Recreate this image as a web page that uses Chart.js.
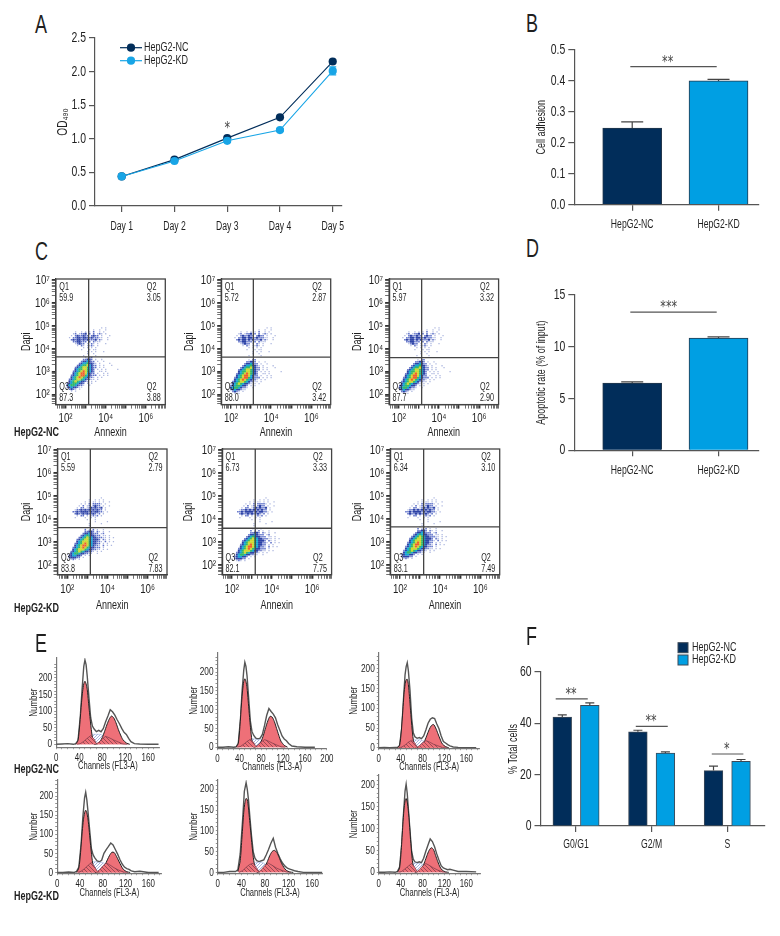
<!DOCTYPE html>
<html>
<head>
<meta charset="utf-8">
<script src="https://cdn.jsdelivr.net/npm/chart.js@4"></script>
<style>
body { margin: 0; background: #fff; }
#page { position: relative; width: 780px; height: 936px; overflow: hidden; font-family: "Liberation Sans", sans-serif; color: #1f1f1f; }
#page canvas { position: absolute; }
.txt { position: absolute; white-space: nowrap; line-height: 1; transform-origin: left center; }
.letter { font-size: 25px; }
.group { font-size: 12.5px; font-weight: bold; }
</style>
</head>
<body>
<div id="page"></div>
<script>
// panel A
const days = ["Day 1", "Day 2", "Day 3", "Day 4", "Day 5"];
const odNC = [0.44, 0.69, 1.01, 1.32, 2.15];
const odKD = [0.44, 0.67, 0.97, 1.13, 2.01];
const odKDErr = [0.01, 0.02, 0.02, 0.02, 0.06];

// panels B and D
const cellLines = ["HepG2-NC", "HepG2-KD"];
const adhesion = [0.248, 0.40];
const adhesionErr = [0.02, 0.005];
const apoptosis = [6.5, 10.85];
const apoptosisErr = [0.1, 0.1];

// panel F
const phases = ["G0/G1", "G2/M", "S"];
const phaseNC = [42.4, 36.7, 21.6];
const phaseKD = [47.0, 28.4, 25.2];
const phaseNCErr = [0.9, 0.6, 1.7];
const phaseKDErr = [1.0, 0.5, 0.7];

// panel C: gate percentages as printed, Q1, Q2 top, Q3, Q2 bottom
const gatesNC = [["59.9", "3.05", "87.3", "3.88"], ["5.72", "2.87", "88.0", "3.42"], ["5.97", "3.32", "87.7", "2.90"]];
const gatesKD = [["5.59", "2.79", "83.8", "7.83"], ["6.73", "3.33", "82.1", "7.75"], ["6.34", "3.10", "83.1", "7.49"]];
// quadrant gates, log10 of Annexin and Dapi
const gateXNC = [3.15, 3.115, 3.135];
const gateYNC = [3.65, 3.64, 3.62];
const gateXKD = [3.15, 3.165, 3.18];
const gateYKD = [3.625, 3.595, 3.65];
// shift of the lower population per plot, log10 units
const shiftNC = [[0, 0], [-0.1, -0.1], [-0.05, -0.1]];
const shiftKD = [[0, 0], [0.05, -0.05], [0, 0.04]];

// density, 0.1 decade wide cells. 1 pale ... 7 red
const densityNC = [
"............................",
"...................1.1......",
"...............1..1..1......",
"......1..1.1.1.2..1.1.......",
".....12.1223.2.2.121.1......",
"....1.2322322.2322.1...1....",
"...1.223323322322211..1.....",
"....2323323232223121..1.....",
".....2233222.2.2111.........",
"......12322.1.21.1...1......",
".......1.21.1121.1..........",
"..........1.1.1.1...........",
".........1...1.11...........",
"............1.1.1...1.......",
"............1..1............",
"..........1.....1...........",
"...........1.22.............",
"..........22332.1..1........",
".........2334322.1..1.......",
"........234453321.1....1....",
".......2345564322.1.1...1...",
"......23456654322.1.1.......",
"......3455665432.1.1.1.....1",
".....23456765432..11.1......",
".....34567764322.1..1.1.....",
"....2345677543222.1.1.1.....",
"....345676543221.1.1........",
"...2345665432211.1..........",
"...3456543321.1.1...........",
"..234554332.1.1.............",
"..345543221..1..............",
"..23433211..................",
"...2321.1...................",
"....1.1....................."];
const densityKD = [
"............................",
"..................1.........",
"............1..1.1.1........",
"..........1.1.11.1.1..1.....",
"........1.1.2.22221.1.......",
".......1.2.12.2322.1..1.....",
"......1.22.12323223.1.......",
".....12232323232322.1.......",
"....2232333323233221.1......",
".....2322323223212.1........",
"......1.22.1.1212.1.........",
".....1....1..1.1............",
"...........1...1............",
"...............1.....1......",
"............1.....1.........",
"............1...............",
"...........1.1.1............",
"..........2.1.2.1..1........",
"..........22332.21.1..1.....",
".........23343222.12........",
"........2345433222.11.1.....",
".......23456543322211.1.1...",
"......234566543332.21.1.....",
"......3456665433221.2.1.1...",
".....2345676543322.1.1......",
".....3456776543221.2.1.1....",
"....23456765433222.1........",
"....34566654332211.1.1......",
"...234565433221.1.1.........",
"...34554332211..1...........",
"..2344332.1.1...............",
"..233322.1..................",
"...121.1...................."];

// panel E: counts per channel, six plots, NC row then KD row
const envCh = [0,10,20,30,34,38,42,45,48,50,52,54,57,60,63,66,70,74,78,82,86,90,94,98,102,106,110,114,118,122,126,130,136,145,160,178];
const g1Ch = [34,38,41,44,46,48,50,52,54,56,58,61,64,68];
const g2Ch = [66,72,76,80,84,88,92,96,100,104,108,112,116,122,128];
const sCh = [36,42,48,54,60,66,70,74,80,86,92,100,108,116,124];
const midCh = [60,64,68,72,76,80,84];
const envelope = [
  [0,1,2,0,2,12,85,165,235,254,240,205,140,80,55,46,38,42,38,48,68,85,104,98,88,74,62,48,36,30,18,8,2,1,0,0],
  [0,0,1,0,1,10,75,150,205,226,215,190,130,70,42,32,24,22,24,34,58,85,103,95,88,78,60,45,30,22,17,10,3,1,0,0],
  [0,1,0,1,1,6,50,120,185,205,215,195,145,75,38,28,24,26,23,30,45,62,72,76,74,60,48,30,16,12,8,5,2,1,0,0],
  [0,0,1,0,3,14,75,145,195,210,190,160,110,62,46,38,30,28,32,50,60,68,77,72,60,48,34,22,14,10,8,4,2,3,0,0],
  [0,0,2,2,6,45,125,195,216,200,175,140,90,50,34,28,26,28,30,42,55,70,82,60,45,32,22,15,10,8,6,4,2,0,0,0],
  [0,0,1,0,2,12,65,130,185,201,180,145,95,48,30,24,22,24,22,32,48,62,76,70,58,42,28,15,10,8,6,7,5,2,2,1]
];
const g1Peak = [
  [0,12,60,125,160,182,190,182,165,130,95,45,12,0],
  [0,10,55,118,152,175,182,175,158,125,90,42,10,0],
  [0,6,40,95,135,160,172,173,160,130,95,45,12,0],
  [0,12,52,108,138,156,163,156,140,112,80,38,10,0],
  [2,28,85,145,168,178,175,155,125,95,65,28,8,0],
  [0,10,50,108,142,162,168,160,140,110,75,32,8,0]
];
const g2Peak = [
  [0,2,8,20,38,58,75,85,80,65,45,28,14,4,0],
  [0,2,6,16,32,52,70,82,80,68,50,32,16,5,0],
  [0,1,3,8,18,32,46,56,59,50,36,22,10,3,0],
  [0,1,4,10,20,33,45,53,52,42,30,18,8,2,0],
  [0,2,6,14,26,40,50,53,48,36,22,12,5,1,0],
  [0,2,5,12,24,38,50,56,52,38,24,12,5,1,0]
];
const sPhase = [
  [0,2,9,18,26,16,2,6,16,24,20,13,7,1,0],
  [0,2,8,15,21,13,2,6,14,20,17,11,6,1,0],
  [0,2,7,14,19,12,2,5,13,18,15,9,5,1,0],
  [0,3,10,18,26,14,3,6,17,25,20,12,6,1,0],
  [0,4,12,19,22,10,2,7,17,22,17,10,5,1,0],
  [0,2,8,14,20,11,2,6,14,20,16,10,5,1,0]
];
const midPhase = [
  [26,30,30,30,30,28,24],
  [20,22,22,20,20,20,18],
  [18,20,20,20,20,18,16],
  [24,28,28,26,26,26,22],
  [20,24,24,24,24,20,18],
  [18,21,21,20,20,18,16]
];

const navy = "#012d5a";
const blue = "#009fe3";
const axisCol = "#555";
const textCol = "#1f1f1f";
const sans = '"Liberation Sans", sans-serif';
const page = document.getElementById("page");
Chart.defaults.font.family = sans;
Chart.defaults.color = textCol;
Chart.defaults.animation = false;
Chart.defaults.responsive = false;
Chart.defaults.plugins.legend.display = false;
Chart.defaults.plugins.tooltip.enabled = false;

// no narrow font on the box, so all canvas text is squeezed sideways
const squeeze = 0.72;
const rawFillText = CanvasRenderingContext2D.prototype.fillText;
CanvasRenderingContext2D.prototype.fillText = function (t, x, y) {
  this.save();
  this.translate(x, y);
  this.scale(squeeze, 1);
  rawFillText.call(this, t, 0, 0);
  this.restore();
};

function addText(str, x, y, cls) {
  const d = document.createElement("div");
  d.className = "txt " + cls;
  d.textContent = str;
  d.style.left = x + "px";
  d.style.top = y + "px";
  d.style.transform = "translate(0,-50%) scaleX(" + squeeze + ")";
  page.appendChild(d);
}

// canvas around a plot area given in page pixels, left/lower are the outer edges
function frame(g) {
  const c = document.createElement("canvas");
  const t = g.top - (g.head || 12);
  c.width = Math.round(g.right + 16 - g.left);
  c.height = Math.round(g.lower - t);
  c.style.left = g.left + "px";
  c.style.top = t + "px";
  page.appendChild(c);
  return c;
}
function layoutFor(g) {
  return { padding: { top: g.head || 12, right: Math.round(g.right + 16 - g.left) - (g.right - g.left), left: 0, bottom: 0 } };
}

function axis(g, horizontal, opts) {
  const o = {
    offset: false,
    grid: { display: true, offset: false, drawOnChartArea: false, drawTicks: true, tickLength: opts.tickLength || 6, color: opts.color || axisCol, lineWidth: opts.tickWidth || 1.2 },
    border: { display: true, color: opts.color || axisCol, width: opts.lineWidth || 1.2 },
    ticks: { autoSkip: false, maxRotation: 0, minRotation: 0, padding: opts.pad === undefined ? 3 : opts.pad, font: { size: opts.size || 14.5 } },
    afterFit: horizontal
      ? function (s) { s.height = g.lower - g.bottom; }
      : function (s) { s.width = g.axisX - g.left; }
  };
  for (const k of ["type", "min", "max"]) if (opts[k] !== undefined) o[k] = opts[k];
  if (opts.list) o.afterBuildTicks = function (s) { s.ticks = opts.list.map(function (v) { return { value: v }; }); };
  if (opts.label) o.ticks.callback = opts.label;
  if (opts.title) o.title = { display: true, text: opts.title, padding: 0, font: { size: opts.titleSize || 12.5 }, color: textCol };
  if (opts.scriptWidth) o.grid.lineWidth = opts.scriptWidth;
  return o;
}

// whiskers, significance lines and the little legends
const marks = {
  id: "marks",
  afterDatasetsDraw(chart, args, opt) {
    const ctx = chart.ctx, xs = chart.scales.x, ys = chart.scales.y;
    ctx.save();
    (opt.errors || []).forEach(function (e) {
      const m = chart.getDatasetMeta(e.dataset);
      const cap = e.cap;
      e.values.forEach(function (v, i) {
        const pt = m.data[i];
        const base = ys.getPixelForValue(e.means[i]);
        const top = ys.getPixelForValue(e.means[i] + v);
        const low = e.both ? ys.getPixelForValue(e.means[i] - v) : base;
        ctx.strokeStyle = e.color;
        ctx.lineWidth = 1.2;
        ctx.beginPath();
        ctx.moveTo(pt.x, low); ctx.lineTo(pt.x, top);
        ctx.moveTo(pt.x - cap, top); ctx.lineTo(pt.x + cap, top);
        if (e.both) { ctx.moveTo(pt.x - cap, low); ctx.lineTo(pt.x + cap, low); }
        ctx.stroke();
      });
    });
    (opt.sig || []).forEach(function (s) {
      const y = ys.getPixelForValue(s.y);
      if (s.x0 !== undefined) {
        ctx.strokeStyle = "#555";
        ctx.lineWidth = 1.2;
        ctx.beginPath();
        ctx.moveTo(xs.getPixelForValue(s.x0), y);
        ctx.lineTo(xs.getPixelForValue(s.x1), y);
        ctx.stroke();
      }
      ctx.fillStyle = "#444";
      ctx.font = '15.5px "DejaVu Sans"';
      ctx.textAlign = "center";
      ctx.textBaseline = "middle";
      ctx.fillText(s.text, xs.getPixelForValue(s.star), y - 4);
    });
    (opt.legend || []).forEach(function (l) {
      const ds = chart.data.datasets[l.dataset];
      ctx.fillStyle = ds.backgroundColor;
      ctx.strokeStyle = ds.borderColor;
      if (l.kind === "line") {
        ctx.lineWidth = 1.2;
        ctx.beginPath();
        ctx.moveTo(l.x, l.y); ctx.lineTo(l.x + 22, l.y);
        ctx.stroke();
        ctx.beginPath();
        ctx.arc(l.x + 11, l.y, 4.1, 0, Math.PI * 2);
        ctx.fill();
      } else {
        ctx.fillRect(l.x, l.y - 5, 10, 10);
        ctx.lineWidth = 1;
        ctx.strokeRect(l.x, l.y - 5, 10, 10);
      }
      ctx.fillStyle = textCol;
      ctx.font = "12.5px " + sans;
      ctx.textAlign = "left";
      ctx.textBaseline = "middle";
      ctx.fillText(ds.label, l.x + l.gap, l.y);
    });
    ctx.restore();
  }
};
Chart.register(marks);

// ---------- A
(function () {
  const g = { axisX: 95, right: 342, top: 37.7, bottom: 206, left: 55, lower: 233 };
  const toPts = function (arr) { return arr.map(function (v, i) { return { x: i + 1, y: v }; }); };
  new Chart(frame(g), {
    type: "line",
    data: {
      datasets: [
        { label: "HepG2-NC", data: toPts(odNC), borderColor: navy, backgroundColor: navy, borderWidth: 1.1, pointRadius: 4.1, pointBorderWidth: 0, tension: 0, order: 2 },
        { label: "HepG2-KD", data: toPts(odKD), borderColor: "#18a5e6", backgroundColor: "#18a5e6", borderWidth: 1.1, pointRadius: 4.1, pointBorderWidth: 0, tension: 0, order: 1 }
      ]
    },
    options: {
      layout: layoutFor(g),
      scales: {
        x: axis(g, true, { type: "linear", min: 0.494, max: 5.176, list: [1, 2, 3, 4, 5], size: 12, pad: 7, label: function (v) { return days[v - 1]; } }),
        y: axis(g, false, { min: 0, max: 2.5, list: [0, 0.5, 1, 1.5, 2, 2.5], pad: 3, title: "OD₄₉₀", titleSize: 14, label: function (v) { return v.toFixed(1); } })
      },
      plugins: {
        marks: {
          errors: [{ dataset: 1, means: odKD, values: odKDErr, cap: 3.5, color: "#18a5e6", both: true }],
          sig: [{ y: 1.08, star: 3, text: "*" }],
          legend: [
            { dataset: 0, kind: "line", x: 65, y: 21.7, gap: 24 },
            { dataset: 1, kind: "line", x: 65, y: 34.7, gap: 24 }
          ]
        }
      }
    }
  });
})();

// ---------- B and D
function twoBars(g, values, errs, yMax, ticks, fmt, title, sig) {
  new Chart(frame(g), {
    type: "bar",
    data: {
      datasets: [{
        label: title,
        data: values.map(function (v, i) { return { x: i + 1, y: v }; }),
        backgroundColor: [navy, blue],
        borderColor: "#24384c",
        borderWidth: 1,
        barThickness: 59
      }]
    },
    options: {
      layout: layoutFor(g),
      scales: {
        x: axis(g, true, { type: "linear", min: 0.329, max: 2.469, list: [1, 2], size: 12, pad: 7, label: function (v) { return cellLines[v - 1]; } }),
        y: axis(g, false, { min: 0, max: yMax, list: ticks, pad: 3, title: title, label: fmt })
      },
      plugins: { marks: { errors: [{ dataset: 0, means: values, values: errs, cap: 11, color: "#444" }], sig: [sig] } }
    }
  });
}
twoBars({ axisX: 574.3, right: 759, top: 50, bottom: 204.7, left: 534, lower: 232 }, adhesion, adhesionErr, 0.5,
  [0, 0.1, 0.2, 0.3, 0.4, 0.5], function (v) { return v.toFixed(1); }, "Cell adhesion",
  { x0: 0.978, x1: 1.979, y: 0.446, star: 1.411, text: "**" });
twoBars({ axisX: 574.3, right: 759, top: 295.3, bottom: 450.3, left: 534, lower: 477 }, apoptosis, apoptosisErr, 15,
  [0, 5, 10, 15], function (v) { return String(v); }, "Apoptotic rate (% of input)",
  { x0: 0.978, x1: 1.979, y: 13.35, star: 1.423, text: "***" });

// ---------- F
(function () {
  const g = { axisX: 540.5, right: 765, top: 672, bottom: 826, left: 506, lower: 851, head: 32 };
  const side = 0.182;
  const at = function (arr, off) { return arr.map(function (v, i) { return { x: i + 1 + off, y: v }; }); };
  new Chart(frame(g), {
    type: "bar",
    data: {
      datasets: [
        { label: "HepG2-NC", data: at(phaseNC, -side), backgroundColor: navy, borderColor: "#3d4a58", borderWidth: 1, barThickness: 18.7, grouped: false },
        { label: "HepG2-KD", data: at(phaseKD, side), backgroundColor: blue, borderColor: "#3d4a58", borderWidth: 1, barThickness: 18.7, grouped: false }
      ]
    },
    options: {
      layout: layoutFor(g),
      scales: {
        x: axis(g, true, { type: "linear", min: 0.53, max: 3.499, list: [1, 2, 3], size: 12, pad: 5, label: function (v) { return phases[v - 1]; } }),
        y: axis(g, false, { min: 0, max: 60, list: [0, 20, 40, 60], pad: 3, title: "% Total cells", label: function (v) { return String(v); } })
      },
      plugins: {
        marks: {
          errors: [
            { dataset: 0, means: phaseNC, values: phaseNCErr, cap: 4.5, color: "#444" },
            { dataset: 1, means: phaseKD, values: phaseKDErr, cap: 4.5, color: "#444" }
          ],
          sig: [
            { x0: 0.731, x1: 1.155, y: 49.5, star: 0.934, text: "**" },
            { x0: 1.79, x1: 2.213, y: 38.8, star: 1.992, text: "**" },
            { x0: 2.795, x1: 3.213, y: 28.05, star: 2.993, text: "*" }
          ],
          legend: [
            { dataset: 0, kind: "box", x: 172, y: 7.7, gap: 14 },
            { dataset: 1, kind: "box", x: 172, y: 20, gap: 14 }
          ]
        }
      }
    }
  });
})();

// ---------- C
const levelCols = [null, "#aeb8e0", "#5d70c8", "#2c42a6", "#14a6d6", "#33b86a", "#cfd832", "#ef5f2a"];
const levelSize = [0, 0.9, 1.1, 1.5, 1.6, 1.6, 1.6, 1.5];

const flowPlugin = {
  id: "flowBox",
  afterDatasetsDraw(chart, args, opt) {
    if (!opt.gates) return;
    const ctx = chart.ctx, a = chart.chartArea;
    ctx.save();
    ctx.strokeStyle = "#444";
    ctx.lineWidth = 1.3;
    ctx.strokeRect(a.left, a.top, a.right - a.left, a.bottom - a.top);
    const vx = chart.scales.x.getPixelForValue(Math.pow(10, opt.gateX));
    const hy = chart.scales.y.getPixelForValue(Math.pow(10, opt.gateY));
    ctx.beginPath();
    ctx.moveTo(vx, a.top); ctx.lineTo(vx, a.bottom);
    ctx.moveTo(a.left, hy); ctx.lineTo(a.right, hy);
    ctx.stroke();
    ctx.fillStyle = textCol;
    ctx.font = "10px " + sans;
    ctx.textAlign = "left";
    ctx.textBaseline = "middle";
    const lab = [["Q1", 3.5, 8, 0], ["Q2", 91, 8, 1], ["Q3", 3.5, -17, 2], ["Q2", 91, -17, 3]];
    lab.forEach(function (l) {
      const base = l[2] > 0 ? a.top + l[2] : a.bottom + l[2];
      ctx.fillText(l[0], a.left + l[1], base);
      ctx.fillText(opt.gates[l[3]], a.left + l[1], base + 11);
    });
    ctx.restore();
  }
};
Chart.register(flowPlugin);

function decadeTicks(lo, hi) {
  const out = [];
  for (let d = lo; d <= hi; d++) for (let m = 1; m < 10; m++) out.push(m * Math.pow(10, d));
  return out;
}
const supers = { 2: "²", 3: "³", 4: "⁴", 5: "⁵", 6: "⁶", 7: "⁷" };
function isDecade(v) { const l = Math.log10(v); return Math.abs(l - Math.round(l)) < 1e-6; }
function flowLabel(keep) {
  return function (v) {
    const l = Math.round(Math.log10(v));
    return isDecade(v) && keep.indexOf(l) >= 0 ? "10" + supers[l] : "";
  };
}

function flowPlot(left, bottom, map, shift, gates, gateX, gateY, titleX, titleY) {
  const g = { axisX: left, right: left + 109.5, top: bottom - 126, bottom: bottom, left: titleX - 7.5, lower: titleY + 7.5 };
  const sets = [];
  for (let lv = 1; lv <= 7; lv++) {
    const pts = [];
    map.forEach(function (row, r) {
      for (let c = 0; c < row.length; c++) {
        if (row[c] !== String(lv)) continue;
        const low = r >= 16;
        pts.push({
          x: Math.pow(10, 1.9 + c * 0.1 + (low ? shift[0] : 0)),
          y: Math.pow(10, 5 - r * 0.0862 + (low ? shift[1] : 0))
        });
      }
    });
    sets.push({ data: pts, pointStyle: "rect", pointRadius: levelSize[lv], pointBorderWidth: 0, backgroundColor: levelCols[lv], order: 8 - lv });
  }
  const thick = function (ctx) { return ctx.tick && isDecade(ctx.tick.value) ? 1.4 : 0.7; };
  new Chart(frame(g), {
    type: "scatter",
    data: { datasets: sets },
    options: {
      layout: layoutFor(g),
      scales: {
        x: axis(g, true, { type: "logarithmic", min: Math.pow(10, 1.515), max: Math.pow(10, 6.965), list: decadeTicks(1, 6).filter(function (v) { return v >= 32.7 && v <= 9.2e6; }), tickLength: 4, color: "#333", scriptWidth: thick, size: 13.5, pad: 2, title: "Annexin", titleSize: 12.5, label: flowLabel([2, 4, 6]) }),
        y: axis(g, false, { type: "logarithmic", min: Math.pow(10, 1.57), max: Math.pow(10, 7.04), list: decadeTicks(1, 7).filter(function (v) { return v >= 37.2 && v <= 1.1e7; }), tickLength: 4, color: "#333", scriptWidth: thick, size: 13.5, pad: 2, title: "Dapi", titleSize: 12.5, label: flowLabel([2, 3, 4, 5, 6, 7]) })
      },
      plugins: { flowBox: { gates: gates, gateX: gateX, gateY: gateY } }
    }
  });
}
const flowLefts = [[56, 220.7, 389.3], [57.3, 222.3, 390]];
const dapiX = [[26.7, 189, 357.7], [26.3, 188.7, 357.3]];
for (let i = 0; i < 3; i++) {
  flowPlot(flowLefts[0][i], 404.6, densityNC, shiftNC[i], gatesNC[i], gateXNC[i], gateYNC[i], dapiX[0][i], 432.5);
  flowPlot(flowLefts[1][i], 575, densityKD, shiftKD[i], gatesKD[i], gateXKD[i], gateYKD[i], dapiX[1][i], 605.7);
}

// ---------- E
const hatchRed = (function () {
  const c = document.createElement("canvas");
  c.width = c.height = 4;
  const x = c.getContext("2d");
  x.fillStyle = "#ee7078";
  x.fillRect(0, 0, 4, 4);
  x.strokeStyle = "#7a3a48";
  x.lineWidth = 0.7;
  x.beginPath();
  x.moveTo(0, 0); x.lineTo(4, 4);
  x.stroke();
  return x.createPattern(c, "repeat");
})();
const hatchBlue = (function () {
  const c = document.createElement("canvas");
  c.width = c.height = 3;
  const x = c.getContext("2d");
  x.fillStyle = "#fff";
  x.fillRect(0, 0, 3, 3);
  x.strokeStyle = "#8fa2d8";
  x.lineWidth = 0.8;
  x.beginPath();
  x.moveTo(0, 3); x.lineTo(3, 0);
  x.stroke();
  return x.createPattern(c, "repeat");
})();

const histBoxes = [
  { axisX: 56, right: 159.3, top: 658.3, bottom: 747.7, xMax: 179.7, yMin: -8.7, yMax: 260, titleX: 33.3, titleY: 766 },
  { axisX: 217.3, right: 326.7, top: 652.7, bottom: 747.7, xMax: 200, yMin: -2.7, yMax: 250.7, titleX: 193.3, titleY: 766 },
  { axisX: 378.3, right: 479, top: 652.7, bottom: 747.7, xMax: 184, yMin: -1, yMax: 239.5, titleX: 353, titleY: 766 },
  { axisX: 56.7, right: 161, top: 780, bottom: 872.7, xMax: 183, yMin: -2, yMax: 242, titleX: 33, titleY: 892 },
  { axisX: 217.3, right: 321.7, top: 780, bottom: 872.7, xMax: 177, yMin: -2, yMax: 222.4, titleX: 193, titleY: 892 },
  { axisX: 378.3, right: 480, top: 775, bottom: 872.7, xMax: 186, yMin: -2, yMax: 221.6, titleX: 353, titleY: 892 }
];
function pairs(xs, ys) { return xs.map(function (x, i) { return { x: x, y: ys[i] }; }); }
function everyTen(lo, hi) { const o = []; for (let v = lo; v <= hi; v += 10) o.push(v); return o; }

histBoxes.forEach(function (b, i) {
  const g = { axisX: b.axisX, right: b.right, top: b.top, bottom: b.bottom, left: b.titleX - 6.5, lower: b.titleY + 6.5 };
  new Chart(frame(g), {
    type: "line",
    data: {
      datasets: [
        { data: pairs(envCh, envelope[i]), borderColor: "#555", borderWidth: 1.4, backgroundColor: "#fff", fill: "origin", pointRadius: 0, tension: 0, order: 5 },
        { data: pairs(midCh, midPhase[i]), borderColor: "#8fa2d8", borderWidth: 0.5, backgroundColor: hatchBlue, fill: "origin", pointRadius: 0, tension: 0.2, order: 4 },
        { data: pairs(g1Ch, g1Peak[i]), borderColor: "#222", borderWidth: 1, backgroundColor: "#ee7078", fill: "origin", pointRadius: 0, tension: 0.25, order: 3 },
        { data: pairs(g2Ch, g2Peak[i]), borderColor: "#222", borderWidth: 1, backgroundColor: "#ee7078", fill: "origin", pointRadius: 0, tension: 0.25, order: 2 },
        { data: pairs(sCh, sPhase[i]), borderColor: "#7a3a48", borderWidth: 0.7, backgroundColor: hatchRed, fill: "origin", pointRadius: 0, tension: 0, order: 1 }
      ]
    },
    options: {
      layout: layoutFor(g),
      scales: {
        x: axis(g, true, { type: "linear", min: 0, max: b.xMax, list: everyTen(0, Math.floor(b.xMax)), tickLength: 2, color: "#777", tickWidth: 0.8, size: 11, pad: 2, title: "Channels (FL3-A)", titleSize: 10.5, label: function (v) { return v % 40 === 0 ? String(v) : ""; } }),
        y: axis(g, false, { type: "linear", min: b.yMin, max: b.yMax, list: everyTen(0, Math.min(Math.floor(b.yMax), 240)), tickLength: 2, color: "#777", tickWidth: 0.8, size: 11.5, pad: 2, title: "Number", titleSize: 11, label: function (v) { return v % 50 === 0 && v <= 200 ? String(v) : ""; } })
      }
    }
  });
});

// ---------- page text
addText("A", 35, 24, "letter");
addText("B", 525.5, 23, "letter");
addText("C", 35, 250.7, "letter");
addText("D", 525.5, 248, "letter");
addText("E", 35, 643, "letter");
addText("F", 525.5, 636, "letter");
addText("HepG2-NC", 14, 432, "group");
addText("HepG2-KD", 14, 607.7, "group");
addText("HepG2-NC", 14, 769, "group");
addText("HepG2-KD", 14, 896, "group");
</script>
</body>
</html>
